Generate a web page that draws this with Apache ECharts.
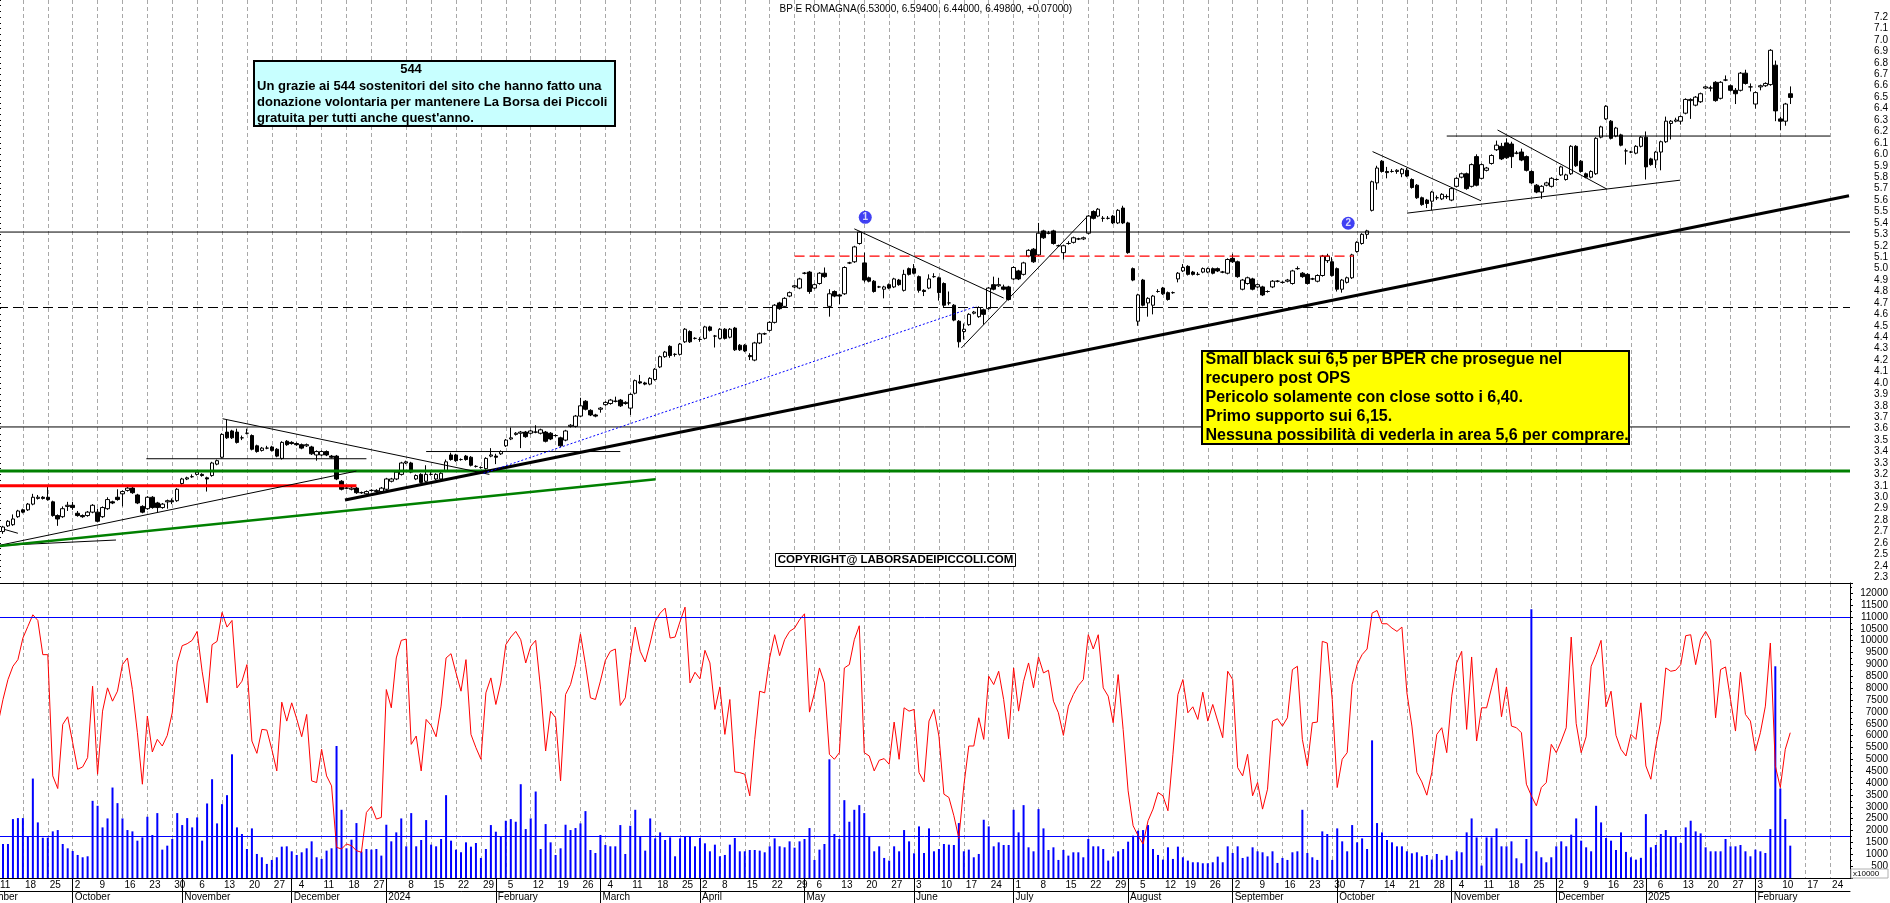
<!DOCTYPE html>
<html><head><meta charset="utf-8">
<script src="https://cdn.jsdelivr.net/npm/echarts/dist/echarts.min.js"></script>
<style>html,body{margin:0;padding:0;background:#fff;}#c{width:1890px;height:903px;}</style>
</head><body><div id="c"></div>
<script>
// ---------- DATA ----------
const holidays = ['2023-12-25','2023-12-26','2024-01-01','2024-03-29','2024-04-01','2024-05-01','2024-08-15','2024-12-24','2024-12-25','2024-12-26','2024-12-31','2025-01-01'];
const firstDay = '2023-09-11';
const lastDay = '2025-02-28';
const monthNames = ['','February','March','April','May','June','July','August','September','October','November','December'];

// [open, close, low, high]
const ohlc = [
[2.66,2.70,2.64,2.71],[2.70,2.74,2.68,2.75],[2.75,2.79,2.74,2.80],[2.76,2.81,2.75,2.85],[2.83,2.88,2.82,2.89],
[2.89,2.87,2.86,2.90],[2.89,2.94,2.88,2.95],[2.94,3.00,2.93,3.03],[2.99,3.00,2.98,3.02],[3.00,2.99,2.98,3.01],
[3.00,2.98,2.97,3.09],[2.96,2.84,2.83,2.97],[2.84,2.81,2.75,2.85],[2.83,2.90,2.82,2.92],[2.92,2.93,2.88,2.96],
[2.93,2.91,2.89,2.96],[2.86,2.84,2.83,2.88],[2.84,2.83,2.82,2.85],[2.84,2.87,2.83,2.88],[2.87,2.93,2.86,2.94],
[2.87,2.79,2.78,2.90],[2.83,2.91,2.82,2.92],[2.90,2.98,2.89,3.00],[2.96,2.95,2.94,2.97],[3.00,2.98,2.97,3.07],
[3.03,3.05,2.92,3.06],[3.06,3.08,3.05,3.10],[3.08,3.04,3.03,3.10],[3.02,2.95,2.94,3.03],[2.92,2.87,2.86,2.93],
[2.90,3.00,2.89,3.01],[3.00,2.91,2.90,3.01],[2.95,2.91,2.87,2.96],[2.91,2.94,2.90,2.95],[2.96,2.97,2.90,2.98],
[2.97,2.96,2.94,2.99],[2.97,3.07,2.96,3.08],[3.12,3.16,3.11,3.17],[3.16,3.17,3.15,3.18],[3.18,3.18,3.17,3.20],
[3.20,3.22,3.19,3.23],[3.20,3.19,3.18,3.21],[3.17,3.16,3.05,3.18],[3.19,3.30,3.18,3.31],[3.29,3.32,3.28,3.33],
[3.35,3.55,3.34,3.56],[3.57,3.52,3.51,3.68],[3.58,3.52,3.51,3.59],[3.57,3.48,3.47,3.60],[3.52,3.52,3.50,3.54],
[3.56,3.56,3.55,3.60],[3.54,3.42,3.41,3.55],[3.45,3.40,3.39,3.46],[3.41,3.43,3.40,3.44],[3.43,3.43,3.42,3.45],
[3.44,3.41,3.40,3.45],[3.42,3.36,3.35,3.43],[3.34,3.48,3.33,3.49],[3.49,3.46,3.45,3.50],[3.48,3.47,3.46,3.49],
[3.47,3.46,3.45,3.48],[3.46,3.43,3.42,3.47],[3.45,3.46,3.44,3.47],[3.44,3.38,3.37,3.45],[3.37,3.40,3.32,3.41],
[3.37,3.40,3.36,3.41],[3.40,3.37,3.36,3.41],[3.36,3.35,3.34,3.37],[3.36,3.16,3.15,3.37],[3.14,3.07,3.06,3.15],
[3.08,3.08,3.07,3.10],[3.07,3.08,3.06,3.09],[3.08,3.04,3.03,3.09],[3.04,3.04,3.03,3.05],[3.03,3.05,3.02,3.06],
[3.06,3.06,3.05,3.07],[3.05,3.06,3.04,3.07],[3.05,3.08,3.04,3.09],[3.07,3.16,3.06,3.17],[3.14,3.16,3.13,3.17],
[3.16,3.22,3.15,3.23],[3.20,3.30,3.19,3.31],[3.30,3.31,3.29,3.32],[3.30,3.22,3.21,3.31],[3.16,3.19,3.15,3.20],
[3.20,3.13,3.12,3.21],[3.14,3.20,3.13,3.28],[3.20,3.20,3.19,3.22],[3.16,3.20,3.15,3.21],[3.16,3.21,3.15,3.22],
[3.23,3.31,3.22,3.33],[3.37,3.33,3.32,3.39],[3.37,3.32,3.31,3.38],[3.33,3.33,3.32,3.34],[3.36,3.33,3.32,3.37],
[3.35,3.28,3.27,3.36],[3.27,3.27,3.26,3.28],[3.26,3.26,3.25,3.27],[3.25,3.34,3.24,3.35],[3.36,3.37,3.35,3.43],
[3.36,3.35,3.29,3.38],[3.38,3.40,3.37,3.41],[3.45,3.50,3.44,3.51],[3.51,3.52,3.50,3.61],[3.55,3.56,3.54,3.57],
[3.56,3.57,3.43,3.58],[3.57,3.53,3.52,3.58],[3.56,3.58,3.55,3.59],[3.57,3.57,3.56,3.63],[3.56,3.59,3.55,3.60],
[3.57,3.49,3.48,3.58],[3.56,3.51,3.50,3.57],[3.54,3.54,3.53,3.55],[3.52,3.45,3.44,3.53],[3.50,3.58,3.49,3.59],
[3.62,3.63,3.61,3.64],[3.62,3.71,3.61,3.72],[3.71,3.80,3.70,3.87],[3.84,3.77,3.76,3.85],[3.76,3.72,3.71,3.77],
[3.72,3.71,3.70,3.73],[3.77,3.78,3.74,3.79],[3.81,3.83,3.80,3.84],[3.82,3.85,3.81,3.86],[3.84,3.84,3.83,3.88],
[3.85,3.80,3.79,3.86],[3.82,3.83,3.81,3.84],[3.78,3.90,3.72,3.91],[3.91,4.02,3.90,4.03],[4.01,4.00,3.99,4.07],
[4.00,3.99,3.98,4.01],[3.99,4.04,3.98,4.05],[4.03,4.12,4.02,4.13],[4.14,4.23,4.13,4.24],[4.23,4.27,4.22,4.28],
[4.32,4.24,4.22,4.33],[4.25,4.25,4.23,4.26],[4.25,4.34,4.24,4.35],[4.36,4.47,4.35,4.48],[4.45,4.36,4.35,4.46],
[4.39,4.39,4.38,4.40],[4.38,4.38,4.36,4.40],[4.39,4.49,4.38,4.50],[4.49,4.46,4.45,4.50],[4.41,4.41,4.31,4.42],
[4.39,4.47,4.38,4.48],[4.47,4.39,4.38,4.48],[4.40,4.47,4.39,4.48],[4.48,4.29,4.28,4.49],[4.33,4.29,4.28,4.34],
[4.33,4.28,4.27,4.34],[4.24,4.23,4.20,4.26],[4.20,4.35,4.19,4.36],[4.35,4.43,4.34,4.44],[4.43,4.43,4.42,4.44],
[4.46,4.53,4.45,4.54],[4.53,4.68,4.52,4.69],[4.70,4.65,4.64,4.71],[4.67,4.74,4.66,4.75],[4.76,4.79,4.75,4.80],
[4.84,4.85,4.83,4.86],[4.83,4.91,4.82,4.92],[4.96,4.96,4.95,4.97],[4.97,4.80,4.78,4.98],[4.83,4.86,4.82,4.87],
[4.87,4.96,4.86,4.97],[4.96,4.93,4.92,5.01],[4.67,4.78,4.58,4.82],[4.80,4.76,4.75,4.81],[4.77,4.76,4.69,4.78],
[4.78,5.01,4.77,5.02],[5.05,5.05,5.04,5.06],[5.06,5.19,5.05,5.20],[5.22,5.32,5.21,5.33],[5.05,4.90,4.88,5.14],
[4.92,4.89,4.88,4.93],[4.89,4.80,4.79,4.90],[4.84,4.84,4.83,4.85],[4.82,4.84,4.74,4.85],[4.86,4.83,4.82,4.87],
[4.84,4.91,4.83,4.92],[4.90,4.86,4.85,4.91],[4.81,4.95,4.80,4.99],[5.00,4.95,4.94,5.01],[5.00,4.96,4.95,5.04],
[4.93,4.81,4.79,4.94],[4.81,4.80,4.76,4.82],[4.83,4.91,4.82,4.95],[4.93,4.93,4.92,4.96],[4.92,4.79,4.72,4.93],
[4.87,4.68,4.66,4.88],[4.70,4.70,4.68,4.80],[4.68,4.55,4.54,4.69],[4.54,4.36,4.31,4.55],[4.45,4.47,4.38,4.52],
[4.51,4.60,4.50,4.61],[4.61,4.62,4.60,4.63],[4.58,4.66,4.57,4.67],[4.64,4.60,4.51,4.65],[4.65,4.83,4.64,4.84],
[4.86,4.82,4.81,4.93],[4.85,4.86,4.84,4.92],[4.84,4.82,4.81,4.86],[4.84,4.73,4.72,4.85],[4.91,5.01,4.90,5.02],
[4.98,4.91,4.90,4.99],[4.95,5.05,4.94,5.06],[5.11,5.16,5.10,5.17],[5.17,5.06,5.05,5.18],[5.12,5.31,5.11,5.40],
[5.33,5.27,5.26,5.34],[5.31,5.31,5.30,5.33],[5.33,5.22,5.21,5.34],[5.20,5.20,5.19,5.21],[5.14,5.20,5.08,5.21],
[5.22,5.22,5.21,5.24],[5.23,5.27,5.22,5.28],[5.26,5.26,5.25,5.27],[5.26,5.27,5.25,5.28],[5.31,5.46,5.30,5.47],
[5.50,5.44,5.43,5.51],[5.46,5.52,5.45,5.53],[5.44,5.44,5.41,5.46],[5.44,5.44,5.43,5.46],[5.46,5.40,5.39,5.47],
[5.40,5.51,5.39,5.52],[5.53,5.40,5.39,5.55],[5.40,5.14,5.13,5.41],[5.00,4.90,4.89,5.01],[4.54,4.77,4.50,4.78],
[4.90,4.68,4.67,4.91],[4.70,4.74,4.58,4.75],[4.68,4.76,4.60,4.77],[4.80,4.80,4.79,4.82],[4.83,4.78,4.77,4.84],
[4.79,4.73,4.72,4.80],[4.79,4.79,4.78,4.80],[4.91,4.96,4.88,4.97],[4.98,5.01,4.97,5.04],[5.02,4.95,4.94,5.03],
[4.97,4.95,4.94,4.98],[4.95,4.95,4.94,4.97],[4.97,5.00,4.96,5.01],[4.97,5.00,4.96,5.01],[5.00,4.96,4.95,5.01],
[5.00,4.98,4.97,5.01],[4.97,4.97,4.96,4.98],[4.96,5.08,4.95,5.09],[5.09,5.06,5.05,5.13],[5.06,4.93,4.92,5.07],
[4.82,4.90,4.81,4.91],[4.87,4.92,4.86,4.93],[4.91,4.82,4.81,4.92],[4.84,4.86,4.83,4.87],[4.84,4.77,4.76,4.85],
[4.80,4.80,4.79,4.81],[4.84,4.89,4.83,4.90],[4.89,4.89,4.88,4.90],[4.88,4.88,4.87,4.89],[4.89,4.90,4.88,4.91],
[4.87,4.98,4.86,4.99],[5.00,5.00,4.99,5.02],[4.96,4.93,4.92,4.97],[4.95,4.87,4.86,4.96],[4.91,4.91,4.90,4.92],
[4.89,4.94,4.88,4.95],[4.94,5.11,4.93,5.12],[5.07,5.11,5.05,5.13],[5.06,4.94,4.93,5.10],[5.00,4.82,4.80,5.01],
[4.82,4.90,4.79,4.91],[4.88,4.92,4.87,4.93],[4.92,5.12,4.91,5.13],[5.15,5.23,5.14,5.24],[5.22,5.30,5.21,5.31],
[5.30,5.33,5.26,5.34],[5.51,5.76,5.50,5.77],[5.75,5.88,5.69,5.90],[5.94,5.85,5.84,5.95],[5.85,5.84,5.79,5.89],
[5.85,5.85,5.84,5.87],[5.85,5.86,5.83,5.87],[5.83,5.87,5.80,5.88],[5.86,5.81,5.80,5.88],[5.78,5.71,5.70,5.79],
[5.73,5.62,5.61,5.74],[5.62,5.56,5.55,5.63],[5.60,5.57,5.53,5.61],[5.59,5.67,5.51,5.68],[5.62,5.62,5.60,5.64],
[5.61,5.65,5.60,5.66],[5.63,5.63,5.61,5.65],[5.60,5.70,5.59,5.71],[5.72,5.79,5.71,5.80],[5.80,5.83,5.79,5.84],
[5.83,5.70,5.69,5.84],[5.72,5.91,5.71,5.92],[5.98,5.73,5.72,6.00],[5.79,5.91,5.78,5.92],[5.86,5.88,5.85,5.89],
[5.92,5.99,5.91,6.00],[6.04,6.08,6.03,6.12],[6.07,5.96,5.95,6.10],[6.10,5.97,5.96,6.14],[6.09,5.98,5.88,6.11],
[6.01,6.01,6.00,6.03],[6.02,5.95,5.94,6.05],[5.98,5.86,5.85,5.99],[5.85,5.75,5.74,5.86],[5.73,5.67,5.66,5.74],
[5.67,5.72,5.61,5.73],[5.73,5.75,5.72,5.76],[5.72,5.79,5.71,5.80],[5.78,5.78,5.77,5.79],[5.82,5.89,5.81,5.90],
[5.78,5.82,5.77,5.83],[5.83,6.07,5.82,6.08],[6.07,5.90,5.89,6.08],[5.94,5.85,5.84,5.95],[5.83,5.80,5.79,5.84],
[5.80,5.85,5.79,5.86],[5.83,6.14,5.82,6.15],[6.15,6.24,6.14,6.25],[6.31,6.42,6.30,6.43],[6.29,6.14,6.13,6.30],
[6.16,6.23,6.15,6.24],[6.17,6.08,6.07,6.18],[6.03,6.03,5.91,6.05],[6.02,6.02,6.01,6.03],[6.01,6.07,6.00,6.08],
[6.07,6.15,6.06,6.16],[6.15,5.89,5.78,6.20],[5.96,5.91,5.90,5.97],[5.95,6.02,5.88,6.03],[6.02,6.11,5.86,6.12],
[6.11,6.29,6.10,6.33],[6.27,6.29,6.13,6.30],[6.29,6.30,6.28,6.32],[6.29,6.33,6.26,6.34],[6.36,6.48,6.35,6.49],
[6.47,6.48,6.31,6.49],[6.43,6.50,6.42,6.51],[6.46,6.53,6.45,6.54],[6.58,6.59,6.57,6.60],[6.58,6.58,6.55,6.60],
[6.63,6.47,6.46,6.64],[6.49,6.63,6.48,6.64],[6.65,6.65,6.64,6.69],[6.60,6.56,6.55,6.61],[6.56,6.53,6.44,6.58],
[6.56,6.71,6.55,6.72],[6.71,6.62,6.61,6.74],[6.59,6.59,6.55,6.62],[6.44,6.54,6.40,6.55],[6.59,6.60,6.56,6.61],
[6.60,6.62,6.59,6.63],[6.61,6.91,6.60,6.92],[6.78,6.38,6.29,6.82],[6.31,6.29,6.21,6.33],[6.29,6.44,6.25,6.45],
[6.53,6.498,6.44,6.594]
];

const volume = [
1500,1433,1433,2483,2525,2525,1755,4191,2343,1699,
1699,1965,2021,1433,1251,1139,971,873,915,3253,
3043,2133,2511,3813,3155,2511,2021,1965,1573,1713,
2581,1811,2735,1195,1363,1643,2735,2231,2525,2133,
2553,1573,3141,4163,2301,3113,3491,5213,2133,1853,
1223,2091,1013,873,593,761,873,1321,1335,1125,
971,1083,1251,1545,873,803,1153,1251,5563,2875,
1251,1615,2315,1111,1223,1195,1223,943,2245,1545,
1923,2511,1335,2735,1335,1601,2441,1405,1335,1643,
3491,1573,1195,1083,1503,1321,1475,845,1223,2231,
1951,1755,2413,2483,2371,3953,2063,2511,3645,1223,
2273,1503,971,1251,2245,2021,2105,2301,2819,1181,
1055,1811,1391,1335,1335,2231,1013,2200,2875,1755,
1153,2511,1671,1923,1601,1713,915,1671,1755,1755,
1335,1685,1461,1125,1405,915,971,1405,1685,1125,
1125,1181,1181,1153,1083,1335,1671,1335,1293,1545,
1279,1545,1643,2105,761,1195,1433,5003,1853,1643,
3281,2371,2875,3071,2735,1755,1125,1335,845,733,
1335,1125,2021,1545,1041,2175,1055,2091,1125,1223,
1433,1405,1391,2315,1125,1195,873,1013,2455,2175,
1335,1503,1391,1391,2875,1923,3071,1293,1125,2903,
2091,1181,1293,761,1181,943,1083,1083,873,1643,
1335,1335,1223,733,901,1125,1223,1531,1783,1993,
2021,2231,1223,971,775,1293,803,1321,873,733,
663,663,621,621,663,901,663,1335,1055,1335,
845,901,1293,1125,1083,915,1125,635,845,761,
1083,1125,2875,1055,873,761,1965,1853,761,2091,
1545,1125,2231,1503,1671,1223,5801,2315,1923,1601,
1503,1335,1335,1125,1041,1083,915,971,775,1013,
761,943,761,1125,1083,1923,2511,1713,523,1713,
1713,2091,1335,1335,1545,831,621,1643,11331,1125,
873,663,873,1335,1545,1335,1825,2511,1573,1293,
1125,3043,2343,1685,1573,1181,1923,1100,873,775,
850,2693,1293,1391,1853,2021,1755,1755,1475,2133,
2413,1965,1881,1293,1125,1125,1125,1643,1335,1335,
1391,1125,915,1195,1125,1055,2063,8923,3771,2483,
1363
];

const oscillator = [
6500,7523,8363,8923,9203,10113,10603,11093,10855,9413,
9413,4303,3771,6473,6795,5703,4583,4681,5073,8083,
4373,7033,8013,7453,7873,8993,9273,7943,6123,3953,
6823,5311,5843,5563,6011,6963,9063,9791,9875,10015,
10393,8713,7383,9833,9973,11191,10575,10855,8013,8293,
8993,5773,5255,6263,6235,5423,4513,7411,6613,7383,
6711,5955,6893,4093,4023,5423,4303,3883,1293,1223,
1433,1363,1153,1083,2763,3015,2483,2553,7943,7173,
9273,10015,10071,5633,5983,4513,6683,6431,5955,7243,
9273,9455,8643,7873,9203,6053,5493,5003,7803,8433,
7313,8223,9833,10155,10393,10043,9063,9763,10015,7943,
5353,7033,6753,4093,7733,8153,8993,10281,8993,7593,
7523,8293,9175,9553,9651,7271,7593,9273,10575,9553,
9105,9903,10813,11163,11373,10113,10155,10813,11415,8223,
8671,8391,9595,9063,7103,8055,6053,7523,4471,4443,
4373,3463,5843,7873,7803,9273,10253,9371,10043,10393,
10533,10883,11135,6991,7803,8853,8223,5213,5003,5283,
8853,8993,10043,10631,5283,5143,4513,4961,5031,4793,
6571,5003,7173,7033,7103,4443,4051,6613,7103,5983,
3533,3393,2623,1671,3883,5563,5563,6753,5843,8503,
8153,8713,7523,5871,8853,7033,8293,9063,8013,9315,
8643,8755,7453,6963,6011,7243,7733,8111,8363,10253,
9651,10253,8013,7663,6543,8573,6263,3673,2203,1783,
1433,2413,2903,3603,3463,2833,5213,7733,8363,6963,
7215,6683,7831,6613,7313,6613,5913,8713,8363,4653,
4303,5213,3463,4023,2903,3743,6613,6711,6403,6753,
8783,8923,5843,4723,6543,6571,9973,9903,7523,3813,
5003,5283,8153,8993,9413,9651,11163,11275,10715,10715,
10533,10393,10575,7803,6403,4443,4051,3491,4443,6053,
6333,5283,7663,9063,9553,6263,9315,5773,7173,7173,
8013,8853,6795,8055,6403,6333,6123,3953,3463,3043,
3813,4023,5633,5283,5773,6333,10155,6515,5283,5955,
8923,9413,10015,7215,7873,6011,5423,5143,6053,5843,
7383,4723,4163,5563,6613,8853,8713,8755,8993,10211,
10253,8993,10043,10393,10015,6753,8783,8895,7523,6193,
8671,6893,6613,5353,6123,7243,9903,4723,3813,5423,
6123
];

// hand-drawn lines: [x index from, price, x index to, price]
const levelLines = {
  res532:   [0, 5.32, 372, 5.32],
  dash466:  [0, 4.66, 372, 4.66],
  red511:   [160, 5.11, 272.3, 5.11],
  res3615:  [0, 3.615, 372, 3.615],
  green323: [0, 3.23, 372, 3.23],
  red310:   [0, 3.10, 72, 3.10],
  sup616:   [291, 6.16, 368, 6.16],
  thin3337: [29.8, 3.337, 74, 3.337],
  thin340:  [86, 3.40, 125, 3.40]
};
const trendLines = {
  mainUp:   [69.7, 2.976, 371.8, 5.637],
  thinUp1:  [0.34, 2.58, 72, 3.229],
  thinFlat: [0.34, 2.578, 23.7, 2.626],
  thinTiny: [1.2, 2.720, 4.0, 2.685],
  greenUp:  [0.34, 2.574, 132.1, 3.157],
  downNov:  [45.1, 3.687, 98.7, 3.200],
  blueDot:  [97.5, 3.209, 196.5, 4.670],
  downMay:  [172, 5.348, 202, 4.743],
  upJun:    [193.5, 4.306, 218.8, 5.456],
  triA:     [276.1, 6.024, 297.9, 5.593],
  triB:     [283.1, 5.486, 337.9, 5.774],
  triC:     [301.2, 6.213, 323.2, 5.695]
};
const markers = [[174.2, 5.449, '1'], [271.2, 5.397, '2']];
const volumeLevels = [11000, 1760];

// ---------- STYLE ----------
const FONT = '"Liberation Sans", Arial, sans-serif';
const lineStyles = {
  res532:{color:'#000',width:1,type:'solid'}, dash466:{color:'#000',width:1,type:[10,5]},
  red511:{color:'#ff0000',width:1.3,type:[10,5]}, res3615:{color:'#000',width:1,type:'solid'},
  green323:{color:'#008000',width:3,type:'solid'}, red310:{color:'#ff0000',width:3,type:'solid'},
  sup616:{color:'#000',width:1,type:'solid'}, thin3337:{color:'#000',width:1,type:'solid'},
  thin340:{color:'#000',width:1,type:'solid'},
  mainUp:{color:'#000',width:3,type:'solid'}, thinUp1:{color:'#000',width:1,type:'solid'},
  thinFlat:{color:'#000',width:1,type:'solid'}, thinTiny:{color:'#000',width:1,type:'solid'},
  greenUp:{color:'#008000',width:2.5,type:'solid'}, downNov:{color:'#000',width:1,type:'solid'},
  blueDot:{color:'#0000ff',width:1,type:[2,2]}, downMay:{color:'#000',width:1,type:'solid'},
  upJun:{color:'#000',width:1,type:'solid'}, triA:{color:'#000',width:1,type:'solid'},
  triB:{color:'#000',width:1,type:'solid'}, triC:{color:'#000',width:1,type:'solid'}
};

// ---------- CALENDAR ----------
function buildDates(){
  const out=[]; const p=firstDay.split('-').map(Number); const q=lastDay.split('-').map(Number);
  let t=Date.UTC(p[0],p[1]-1,p[2]); const end=Date.UTC(q[0],q[1]-1,q[2]);
  while(t<=end){ const d=new Date(t); const wd=d.getUTCDay(); const s=d.toISOString().slice(0,10);
    if(wd!==0&&wd!==6&&holidays.indexOf(s)<0) out.push(s); t+=86400000; }
  return out;
}
const dates = buildDates();
const N = dates.length;
function mondayOf(s){ const d=new Date(s+'T00:00:00Z'); const wd=(d.getUTCDay()+6)%7; return d.getTime()-wd*86400000; }
const weekMark = dates.map((s,i)=>{
  const m=mondayOf(s);
  if(i>0 && mondayOf(dates[i-1])===m) return false;
  const md=new Date(m); const y=md.getUTCFullYear()+(md.getUTCMonth()===11?1:0);
  const diff=(Date.UTC(y,0,1)-m)/86400000;
  return !(diff>=0 && diff<=6);
});
const monthMark = dates.map((s,i)=> i>0 && s.slice(5,7)!==dates[i-1].slice(5,7));
function monthLabel(s){ const m=+s.slice(5,7); return m===1 ? s.slice(0,4) : monthNames[m-1]; }

// ---------- CHART ----------
const chart = echarts.init(document.getElementById('c'), null, {width:1890, height:903});
const gridLine = {show:true, lineStyle:{color:'#a8a8a8', width:1, type:[4,3]}};
const series = [];
series.push({type:'candlestick', xAxisIndex:0, yAxisIndex:0, data:ohlc, barWidth:4, z:2,
  itemStyle:{color:'#ffffff', color0:'#000000', borderColor:'#000000', borderColor0:'#000000', borderColorDoji:'#000000', borderWidth:1}});
series.push({type:'bar', xAxisIndex:1, yAxisIndex:1, data:volume, barWidth:2, z:2, itemStyle:{color:'#0000ff'},
  markLine:{silent:true, symbol:'none', label:{show:false}, lineStyle:{color:'#0000ff', width:1, type:'solid'},
    data: volumeLevels.map(v=>({yAxis:v}))}});
series.push({type:'line', xAxisIndex:1, yAxisIndex:1, data:oscillator, symbol:'none', z:4, lineStyle:{color:'#ff0000', width:1}});
function addLines(obj){ Object.keys(obj).forEach(k=>{ const a=obj[k];
  series.push({type:'line', xAxisIndex:3, yAxisIndex:0, data:[[a[0],a[1]],[a[2],a[3]]], symbol:'none', silent:true, z:3, lineStyle:lineStyles[k]}); }); }
addLines(levelLines); addLines(trendLines);
series.push({type:'scatter', xAxisIndex:3, yAxisIndex:0, data:markers.map(m=>[m[0],m[1]]), symbolSize:13, z:6, silent:true,
  itemStyle:{color:'#1010f0'},
  label:{show:true, position:'inside', formatter:p=>markers[p.dataIndex][2], color:'#fff', fontWeight:'bold', fontSize:10, fontFamily:FONT}});

function txt(x,y,text,size,weight,align){ return {type:'text', x:x, y:y, z:100, silent:true,
  style:{text:text, fill:'#000', fontSize:size, fontWeight:weight||'normal', fontFamily:FONT, align:align||'left', textAlign:align||'left', verticalAlign:'middle', textVerticalAlign:'middle'}}; }

const graphics = [
  {type:'rect', z:99, silent:true, shape:{x:254, y:61, width:361, height:65}, style:{fill:'#c8ffff', stroke:'#000', lineWidth:2}},
  txt(411, 69.5, '544', 13, 'bold', 'center'),
  txt(257, 86, 'Un grazie ai 544 sostenitori del sito che hanno fatto una', 13, 'bold'),
  txt(257, 102.5, 'donazione volontaria per mantenere La Borsa dei Piccoli', 13, 'bold'),
  txt(257, 118.5, "gratuita per tutti anche quest'anno.", 13, 'bold'),
  {type:'rect', z:99, silent:true, shape:{x:1202, y:351, width:427, height:93}, style:{fill:'#ffff00', stroke:'#000', lineWidth:2}},
  txt(1205.5, 360, 'Small black sui 6,5 per BPER che prosegue nel', 16, 'bold'),
  txt(1205.5, 379, 'recupero post OPS', 16, 'bold'),
  txt(1205.5, 398, 'Pericolo solamente con close sotto i 6,40.', 16, 'bold'),
  txt(1205.5, 417, 'Primo supporto sui 6,15.', 16, 'bold'),
  txt(1205.5, 436, 'Nessuna possibilità di vederla in area 5,6 per comprare.', 16, 'bold'),
  {type:'rect', z:99, silent:true, shape:{x:775.5, y:553.5, width:240, height:13}, style:{fill:'#fff', stroke:'#000', lineWidth:1}},
  txt(895.5, 560.3, 'COPYRIGHT@ LABORSADEIPICCOLI.COM', 11.5, 'bold', 'center'),
  txt(779.5, 9.5, 'BP E ROMAGNA(6.53000, 6.59400, 6.44000, 6.49800, +0.07000)', 10, 'normal'),
  txt(-31, 897.5, 'September', 10, 'normal'),
  {type:'rect', z:99, silent:true, shape:{x:1851, y:869, width:37, height:9}, style:{fill:'#fff', stroke:'#b0b0b0', lineWidth:1}},
  txt(1853, 873.5, 'x10000', 8, 'normal')
];

const option = {
  animation:false,
  backgroundColor:'#ffffff',
  textStyle:{fontFamily:FONT},
  grid:[
    {left:-2, width:1852, top:0, height:583, outerBoundsMode:'none', containLabel:false},
    {left:-2, width:1852, top:583, height:295, outerBoundsMode:'none', containLabel:false}
  ],
  xAxis:[
    {type:'category', gridIndex:0, data:dates, boundaryGap:false,
      axisLine:{show:true, onZero:false, lineStyle:{color:'#000', width:1}}, axisTick:{show:false}, axisLabel:{show:false},
      splitLine:Object.assign({interval:(i)=>weekMark[i]}, gridLine)},
    {type:'category', gridIndex:1, data:dates, boundaryGap:false, position:'bottom',
      axisLine:{show:true, onZero:false, lineStyle:{color:'#000', width:1}},
      axisTick:{show:true, interval:(i)=>monthMark[i], length:25, lineStyle:{color:'#000', width:1}},
      axisLabel:{show:true, interval:(i)=>weekMark[i], formatter:(v)=>String(parseInt(v.slice(8),10)), align:'left', margin:2,
        padding:[0,0,0,2], fontSize:10, color:'#000', hideOverlap:false, fontFamily:FONT},
      splitLine:Object.assign({interval:(i)=>weekMark[i]}, gridLine)},
    {type:'category', gridIndex:1, data:dates, boundaryGap:false, position:'bottom', offset:13,
      axisLine:{show:true, onZero:false, lineStyle:{color:'#000', width:1}}, axisTick:{show:false},
      axisLabel:{show:true, interval:(i)=>monthMark[i], formatter:monthLabel, align:'left', margin:1, padding:[0,0,0,2],
        fontSize:10, color:'#000', hideOverlap:false, fontFamily:FONT},
      splitLine:{show:false}},
    {type:'value', gridIndex:0, min:0, max:N-1, show:false}
  ],
  yAxis:[
    {type:'value', gridIndex:0, position:'right', min:2.25, max:7.35, interval:0.05, scale:false,
      axisLine:{show:true, lineStyle:{color:'#000', width:1}}, axisTick:{show:true, length:3, lineStyle:{color:'#000'}},
      axisLabel:{fontSize:10, color:'#000', align:'right', margin:38, fontFamily:FONT, hideOverlap:false,
        formatter:(v)=>{ const r=Math.round(v*100); return (r%10===0 && r>=230 && r<=720) ? (r/100).toFixed(1) : ''; }},
      splitLine:{show:false}},
    {type:'value', gridIndex:1, position:'right', min:0, max:12433, interval:500,
      axisLine:{show:true, lineStyle:{color:'#000', width:1}}, axisTick:{show:true, length:3, lineStyle:{color:'#000'}},
      minorTick:{show:true, splitNumber:2, length:2, lineStyle:{color:'#000'}},
      axisLabel:{fontSize:10, color:'#000', align:'right', margin:38, fontFamily:FONT, hideOverlap:false,
        formatter:(v)=> (v>0 && v<=12000 && Math.round(v)%500===0) ? String(Math.round(v)) : ''},
      splitLine:{show:false}}
  ],
  series:series,
  graphic:{elements:graphics}
};
chart.setOption(option);
</script>
</body></html>
